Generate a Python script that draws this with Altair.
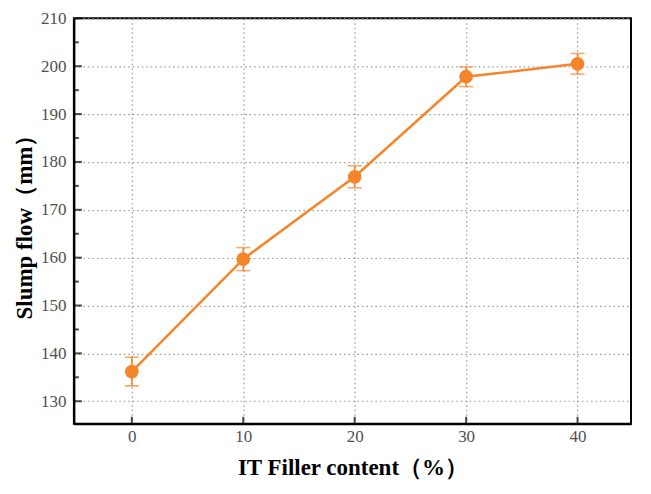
import altair as alt
import pandas as pd

content = [0, 10, 20, 30, 40]
slump = [136.2, 159.7, 176.9, 197.8, 200.5]
err = [3.0, 2.4, 2.3, 2.05, 2.15]

y_major = [130, 140, 150, 160, 170, 180, 190, 200, 210]
y_minor = [135, 145, 155, 165, 175, 185, 195, 205]
x_major = [0, 10, 20, 30, 40]

ORANGE = "#F5852A"
FONT = "Liberation Serif"

df = pd.DataFrame({
    "x": content,
    "y": slump,
    "lo": [s - e for s, e in zip(slump, err)],
    "hi": [s + e for s, e in zip(slump, err)],
})

xs = alt.Scale(domain=[-5.2, 44.8], nice=False, zero=False)
ys = alt.Scale(domain=[125.3, 210], nice=False, zero=False)

xax = alt.Axis(values=x_major, title="IT Filler content（%）", grid=True,
               gridDash=[1.5, 3], gridColor="#9a9a9a", gridWidth=1.2,
               domainColor="black", domainWidth=2, ticks=False,
               labelFont=FONT, labelFontSize=17, labelColor="#505050", labelPadding=5,
               titleFont=FONT, titleFontSize=23, titleFontWeight="bold", titleColor="black",
               titlePadding=12)
yax = alt.Axis(values=y_major, title="Slump flow（mm）", grid=True,
               gridDash=[1.5, 3], gridColor="#9a9a9a", gridWidth=1.2,
               domainColor="black", domainWidth=2, ticks=False,
               labelFont=FONT, labelFontSize=17, labelColor="#505050", labelPadding=8,
               titleFont=FONT, titleFontSize=23, titleFontWeight="bold", titleColor="black",
               titlePadding=4)

base = alt.Chart(df)

line = base.mark_line(color=ORANGE, strokeWidth=2.5).encode(
    x=alt.X("x:Q", scale=xs, axis=xax),
    y=alt.Y("y:Q", scale=ys, axis=yax),
)
rule = base.mark_rule(color=ORANGE, strokeWidth=1.6).encode(
    x=alt.X("x:Q", scale=xs), y=alt.Y("lo:Q", scale=ys), y2="hi:Q")
cap_lo = base.mark_tick(color=ORANGE, orient="horizontal", size=14, thickness=1.6).encode(
    x=alt.X("x:Q", scale=xs), y=alt.Y("lo:Q", scale=ys))
cap_hi = base.mark_tick(color=ORANGE, orient="horizontal", size=14, thickness=1.6).encode(
    x=alt.X("x:Q", scale=xs), y=alt.Y("hi:Q", scale=ys))
pts = base.mark_circle(color=ORANGE, size=190, opacity=1).encode(
    x=alt.X("x:Q", scale=xs), y=alt.Y("y:Q", scale=ys))

ymaj_df = pd.DataFrame({"v": y_major})
ymin_df = pd.DataFrame({"v": y_minor})
xmaj_df = pd.DataFrame({"v": x_major})

ytick_major = alt.Chart(ymaj_df).mark_tick(color="black", orient="horizontal", size=7, thickness=2).encode(
    y=alt.Y("v:Q", scale=ys), x=alt.value(4.5))
ytick_minor = alt.Chart(ymin_df).mark_tick(color="black", orient="horizontal", size=4, thickness=2).encode(
    y=alt.Y("v:Q", scale=ys), x=alt.value(3))
xtick_major = alt.Chart(xmaj_df).mark_tick(color="black", orient="vertical", size=7, thickness=2).encode(
    x=alt.X("v:Q", scale=xs), y=alt.value(406 - 3.5))

chart = alt.layer(line, rule, cap_lo, cap_hi, pts, ytick_major, ytick_minor, xtick_major).properties(
    width=558, height=406,
    autosize=alt.AutoSizeParams(type="none"),
    padding={"left": 66, "top": 10, "right": 12, "bottom": 60},
    background="white",
).configure_view(stroke="black", strokeWidth=2)

chart.save("out.html", embed_options={"renderer": "svg", "actions": False})
